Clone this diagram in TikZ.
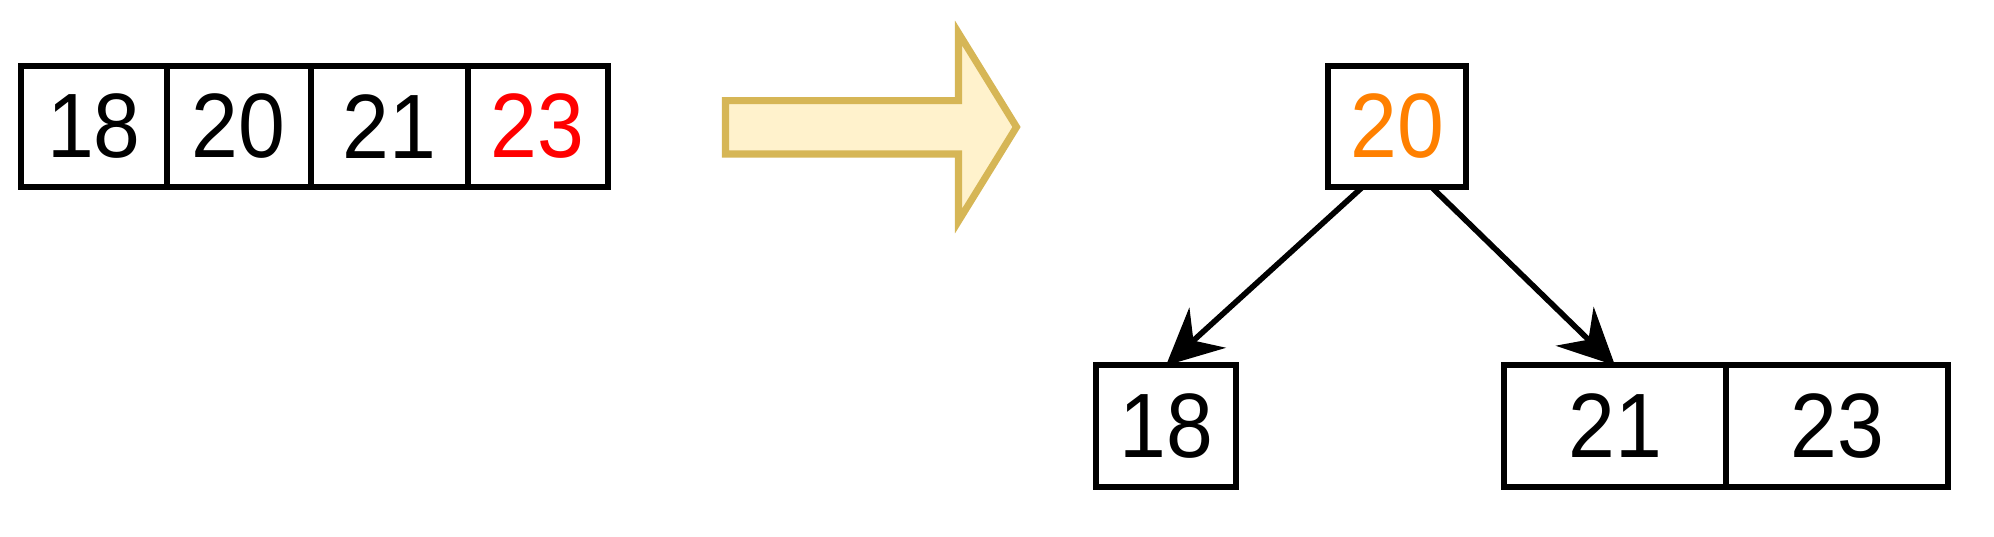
\documentclass[tikz,border=0pt]{standalone}
\usepackage{fontspec}
\setmainfont{Liberation Sans}[FakeStretch=0.92]
\usetikzlibrary{arrows.meta,positioning,calc}
\definecolor{keyred}{HTML}{FF0000}
\definecolor{keyorange}{HTML}{FF8000}
\definecolor{noteFill}{HTML}{FFF2CC}
\definecolor{noteLine}{HTML}{D6B656}

\begin{document}
\begin{tikzpicture}[
    x=0.01cm, y=-0.01cm,
    cell/.style={draw, rectangle, line width=1.7pt, outer sep=0pt, inner sep=0pt, minimum height=1.21cm, text centered, font=\fontsize{26}{30}\selectfont},
    arrow/.style={-{Stealth[length=0.56cm, width=0.54cm, inset=0.19cm]}, line width=1.6pt},
    bigarrow/.style={draw=noteLine, fill=noteFill, line width=2pt, line join=miter},
    node distance=0pt
]
    \useasboundingbox (0,0) rectangle (1994,536);

    % sorted array
    \node [cell, minimum width=1.45cm] (a18) at (94,126.5) {18};
    \node [cell, minimum width=1.44cm, right=of a18] (a20) {20};
    \node [cell, minimum width=1.57cm, right=of a20] (a21) {21};
    \node [cell, minimum width=1.40cm, right=of a21, text=keyred] (a23) {23};

    % transform
    \draw [bigarrow] (725.5,100.7) -- (958.5,100.7) -- (958.5,33) -- (1016.5,127)
        -- (958.5,221) -- (958.5,154) -- (725.5,154) -- cycle;

    % resulting tree
    \node [cell, minimum width=1.38cm, text=keyorange] (root) at (1397,126.5) {20};
    \node [cell, minimum width=1.40cm] (c18) at (1166,426) {18};
    \node [cell, minimum width=2.22cm] (c21) at (1615,426) {21};
    \node [cell, minimum width=2.22cm, right=of c21] (c23) {23};

    \draw [arrow] ($(root.south west)!0.25!(root.south east)$) -- (c18.north);
    \draw [arrow] ($(root.south west)!0.75!(root.south east)$) -- (c21.north);

\end{tikzpicture}
\end{document}
